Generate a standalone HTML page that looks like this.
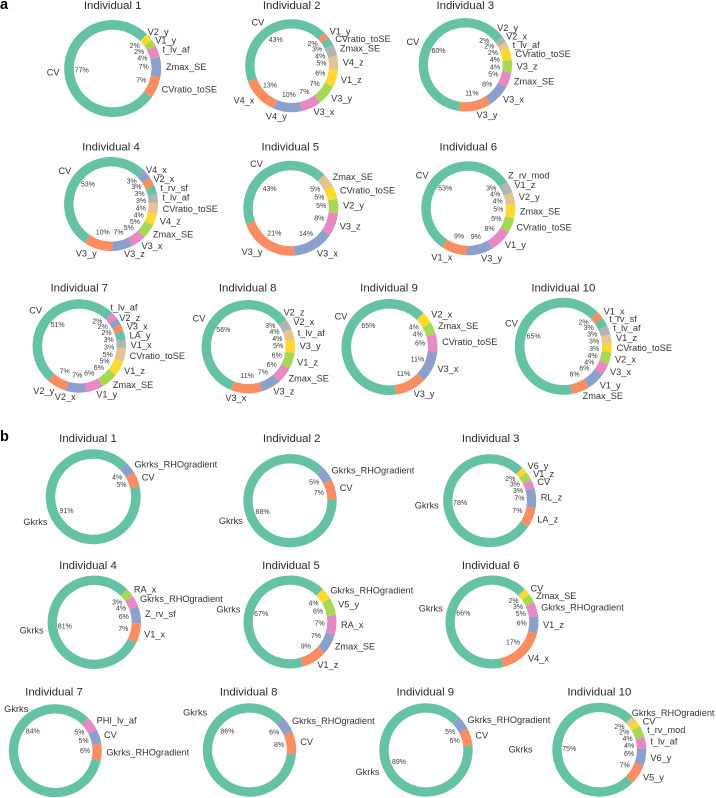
<!DOCTYPE html>
<html lang="en">
<head>
<meta charset="utf-8">
<title>Feature importance donut charts per individual</title>
<style>
html,body{margin:0;padding:0;background:#fff;width:716px;height:798px;overflow:hidden}
svg{display:block}
text{font-family:"Liberation Sans",sans-serif}
.title{font-size:11.4px;fill:#2a2a2a;text-anchor:middle;dominant-baseline:central}
.name{font-size:9.2px;fill:#333;dominant-baseline:central}
.pct{font-size:7px;fill:#3a3a3a;text-anchor:middle;dominant-baseline:central}
.panel-letter{font-size:14.5px;font-weight:bold;fill:#000}
</style>
</head>
<body>
<svg id="chart" xmlns="http://www.w3.org/2000/svg" width="716" height="798" viewBox="0 0 716 798">
<text class="panel-letter" x="0" y="9">a</text>
<text class="panel-letter" x="0" y="441">b</text>
</svg>
<script>
const namesA1 = ['CV','CVratio_toSE','Zmax_SE','t_lv_af','V1_y','V2_y'];
const valuesA1 = [77.4,7.2,6.8,3.9,2.3,2.4];
const namesA2 = ['CV','V4_x','V4_y','V3_x','V3_y','V1_z','V4_z','Zmax_SE','CVratio_toSE','V1_y'];
const valuesA2 = [43,13,10,7,7,6,5,4,3,2];
const namesA3 = ['CV','V3_y','V3_x','Zmax_SE','V3_z','CVratio_toSE','t_lv_af','V2_x','V2_y'];
const valuesA3 = [60.4,11.2,8,5.2,4.4,4.2,2.2,2.2,2.2];
const namesA4 = ['CV','V3_y','V3_z','V3_x','Zmax_SE','V4_z','CVratio_toSE','t_lv_af','t_rv_sf','V2_x','V4_x'];
const valuesA4 = [53,10,7,5,5,4,4,3,3,3,3];
const namesA5 = ['CV','V3_y','V3_x','V3_z','V2_y','CVratio_toSE','Zmax_SE'];
const valuesA5 = [43,21,14,8,5,4.6,4.6];
const namesA6 = ['CV','V1_x','V3_y','V1_y','CVratio_toSE','Zmax_SE','V2_y','V1_z','Z_rv_mod'];
const valuesA6 = [53,9,9,8,5,5,4,4,3];
const namesA7 = ['CV','V2_y','V2_x','V1_y','Zmax_SE','V1_z','CVratio_toSE','V1_x','LA_y','V3_x','V2_z','t_lv_af'];
const valuesA7 = [51,7,7,6,6,5,5,3,3,2.4,2.4,2.4];
const namesA8 = ['CV','V3_x','V3_z','Zmax_SE','V1_z','V3_y','t_lv_af','V2_x','V2_z'];
const valuesA8 = [55.6,10.6,6.6,5.6,5.6,4.6,3.6,3.6,2.6];
const namesA9 = ['CV','V3_y','V3_x','CVratio_toSE','Zmax_SE','V2_x'];
const valuesA9 = [64.6,10.6,10.6,6,4,4];
const namesA10 = ['CV','Zmax_SE','V1_y','V3_x','V2_x','CVratio_toSE','V1_z','t_lv_af','t_rv_sf','V1_x'];
const valuesA10 = [65,6,6,4,4,3,3,3,3,2.4];

const namesB1 = ['Gkrks','CV','Gkrks_RHOgradient'];
const valuesB1 = [91,5,4];
const namesB2 = ['Gkrks','CV','Gkrks_RHOgradient'];
const valuesB2 = [88,7,5];
const namesB3 = ['Gkrks','LA_z','RL_z','CV','V1_z','V6_y'];
const valuesB3 = [78,7,7,3,3,2];
const namesB4 = ['Gkrks','V1_x','Z_rv_sf','Gkrks_RHOgradient','RA_x'];
const valuesB4 = [81,7,6,4,3];
const namesB5 = ['Gkrks','V1_z','Zmax_SE','RA_x','V5_y','Gkrks_RHOgradient'];
const valuesB5 = [67,9,7,7,6,4];
const namesB6 = ['Gkrks','V4_x','V1_z','Gkrks_RHOgradient','Zmax_SE','CV'];
const valuesB6 = [66,17,6,5,3,2.4];
const namesB7 = ['Gkrks','Gkrks_RHOgradient','CV','PHI_lv_af'];
const valuesB7 = [84,6,5,5];
const namesB8 = ['Gkrks','CV','Gkrks_RHOgradient'];
const valuesB8 = [86,8,6];
const namesB9 = ['Gkrks','CV','Gkrks_RHOgradient'];
const valuesB9 = [89,6,5];
const namesB10 = ['Gkrks','V5_y','V6_y','t_lv_af','t_rv_mod','CV','Gkrks_RHOgradient'];
const valuesB10 = [75,7,6,4,4,2,2];

const palette = ['#66c2a5','#fc8d62','#8da0cb','#e78ac3','#a6d854','#ffd92f','#e5c494','#b3b3b3'];
const startAngle = 45;
const ringWidth = 0.2;
const nameDistance = 1.1;
const pctDistance = 0.64;
const minPctArc = 7.4;
const minNameArc = 9.5;

const charts = [
  {id:'a1',title:'Individual 1',cx:112.7,cy:68.5,r:48.5,tx:112.7,ty:6,names:namesA1,values:valuesA1},
  {id:'a2',title:'Individual 2',cx:291.7,cy:65.7,r:46.5,tx:291.7,ty:6,names:namesA2,values:valuesA2},
  {id:'a3',title:'Individual 3',cx:465.3,cy:64.8,r:46.7,tx:465.3,ty:6,names:namesA3,values:valuesA3},
  {id:'a4',title:'Individual 4',cx:111.1,cy:204,r:47,tx:111,ty:147.3,names:namesA4,values:valuesA4},
  {id:'a5',title:'Individual 5',cx:290.8,cy:208.3,r:47.5,tx:290.3,ty:147.3,names:namesA5,values:valuesA5},
  {id:'a6',title:'Individual 6',cx:468.3,cy:208.3,r:47,tx:468.3,ty:147.3,names:namesA6,values:valuesA6},
  {id:'a7',title:'Individual 7',cx:79.3,cy:346,r:46.7,tx:79.3,ty:288.7,names:namesA7,values:valuesA7},
  {id:'a8',title:'Individual 8',cx:248.3,cy:346.7,r:46.7,tx:247.7,ty:288.7,names:namesA8,values:valuesA8},
  {id:'a9',title:'Individual 9',cx:389.5,cy:347,r:48,tx:389,ty:288.7,names:namesA9,values:valuesA9},
  {id:'a10',title:'Individual 10',cx:563.3,cy:346.3,r:48.5,tx:563.3,ty:288.7,names:namesA10,values:valuesA10},
  {id:'b1',title:'Individual 1',cx:93.2,cy:496.7,r:47.5,tx:88,ty:439,names:namesB1,values:valuesB1},
  {id:'b2',title:'Individual 2',cx:290,cy:500.7,r:46.7,tx:291.7,ty:439,names:namesB2,values:valuesB2},
  {id:'b3',title:'Individual 3',cx:489.7,cy:500.7,r:46.5,tx:490.7,ty:439,names:namesB3,values:valuesB3},
  {id:'b4',title:'Individual 4',cx:94.3,cy:622.3,r:46.7,tx:88,ty:566,names:namesB4,values:valuesB4},
  {id:'b5',title:'Individual 5',cx:290,cy:622,r:46.5,tx:291,ty:566,names:namesB5,values:valuesB5},
  {id:'b6',title:'Individual 6',cx:492,cy:622,r:46.5,tx:490.7,ty:566,names:namesB6,values:valuesB6},
  {id:'b7',title:'Individual 7',cx:55.3,cy:750.7,r:46.5,tx:54,ty:692.3,names:namesB7,values:valuesB7},
  {id:'b8',title:'Individual 8',cx:249.5,cy:750,r:46.7,tx:248.7,ty:692.3,names:namesB8,values:valuesB8},
  {id:'b9',title:'Individual 9',cx:426,cy:750,r:46.7,tx:425.3,ty:692.3,names:namesB9,values:valuesB9},
  {id:'b10',title:'Individual 10',cx:599.3,cy:749.7,r:47,tx:599.3,ty:692.3,names:namesB10,values:valuesB10}
];

/* Hand adjustments, like the label repulsion in the original: chart id + slice index -> pixel shift */
const nameNudges = {
  'a1:5':[-5,-1],'a1:4':[-3,0],
  'a3:8':[-5,-1],'a3:7':[-2,0],
  'a4:10':[-5,-1],'a4:9':[-3,0],
  'a7:11':[-6,-3],'a7:10':[-3,0],
  'a8:8':[-4,-1],
  'a9:0':[8,-14],'a10:0':[5.5,-7],
  'b7:0':[22,-56],'b8:0':[6,-55],'b10:0':[-15,0],'b10:6':[-5,-1]
};
const pctNudges = {
  'a5:0':[-5,7],'a9:0':[8,-11],
  'b7:0':[6,-27],'b8:0':[6,-28]
};

const svgNS = 'http://www.w3.org/2000/svg';
const root = document.getElementById('chart');

function polar(c, radius, deg) {
  const a = deg * Math.PI / 180;
  return [c.cx + radius * Math.cos(a), c.cy - radius * Math.sin(a)];
}

function wedgePath(c, a0, a1) {
  const inner = c.r * (1 - ringWidth);
  const large = (a1 - a0) > 180 ? 1 : 0;
  const p0 = polar(c, c.r, a0), p1 = polar(c, c.r, a1);
  const p2 = polar(c, inner, a1), p3 = polar(c, inner, a0);
  return 'M' + p0[0].toFixed(2) + ' ' + p0[1].toFixed(2) +
    'A' + c.r + ' ' + c.r + ' 0 ' + large + ' 0 ' + p1[0].toFixed(2) + ' ' + p1[1].toFixed(2) +
    'L' + p2[0].toFixed(2) + ' ' + p2[1].toFixed(2) +
    'A' + inner + ' ' + inner + ' 0 ' + large + ' 1 ' + p3[0].toFixed(2) + ' ' + p3[1].toFixed(2) + 'Z';
}

function spreadAngles(mids, minDeg) {
  const out = mids.slice();
  for (let it = 0; it < 60; it++) {
    for (let i = 0; i < out.length - 1; i++) {
      const gap = out[i + 1] - out[i];
      if (gap < minDeg) {
        const d = (minDeg - gap) / 2;
        out[i] -= d;
        out[i + 1] += d;
      }
    }
  }
  return out;
}

function addText(cls, x, y, str) {
  const t = document.createElementNS(svgNS, 'text');
  t.setAttribute('class', cls);
  t.setAttribute('x', x.toFixed(2));
  t.setAttribute('y', y.toFixed(2));
  t.textContent = str;
  root.appendChild(t);
  return t;
}

charts.forEach(function (c) {
  const total = c.values.reduce(function (s, v) { return s + v; }, 0);
  const g = document.createElementNS(svgNS, 'g');
  
  
  root.appendChild(g);

  const title = addText('title', c.tx, c.ty, c.title);
  
  

  let angle = startAngle;
  const mids = [];
  c.values.forEach(function (v, i) {
    const sweep = v / total * 360;
    const path = document.createElementNS(svgNS, 'path');
    path.setAttribute('d', wedgePath(c, angle, angle + sweep));
    path.setAttribute('fill', palette[i % palette.length]);
    
    
    g.appendChild(path);
    mids.push(angle + sweep / 2);
    angle += sweep;
  });

  const pctAngles = spreadAngles(mids, minPctArc / (c.r * pctDistance) * 180 / Math.PI);
  const nameAngles = spreadAngles(mids, minNameArc / (c.r * nameDistance) * 180 / Math.PI);

  c.values.forEach(function (v, i) {
    const key = c.id + ':' + i;
    const np = polar(c, c.r * nameDistance, nameAngles[i]);
    const nn = nameNudges[key] || [0, 0];
    const onRight = np[0] >= c.cx;
    const label = addText('name', np[0] + nn[0], np[1] + nn[1], c.names[i]);
    label.setAttribute('text-anchor', onRight ? 'start' : 'end');
    
    

    const pp = polar(c, c.r * pctDistance, pctAngles[i]);
    const pn = pctNudges[key] || [0, 0];
    const pct = addText('pct', pp[0] + pn[0], pp[1] + pn[1], Math.round(v) + '%');
    
    
  });
});
</script>
</body>
</html>
